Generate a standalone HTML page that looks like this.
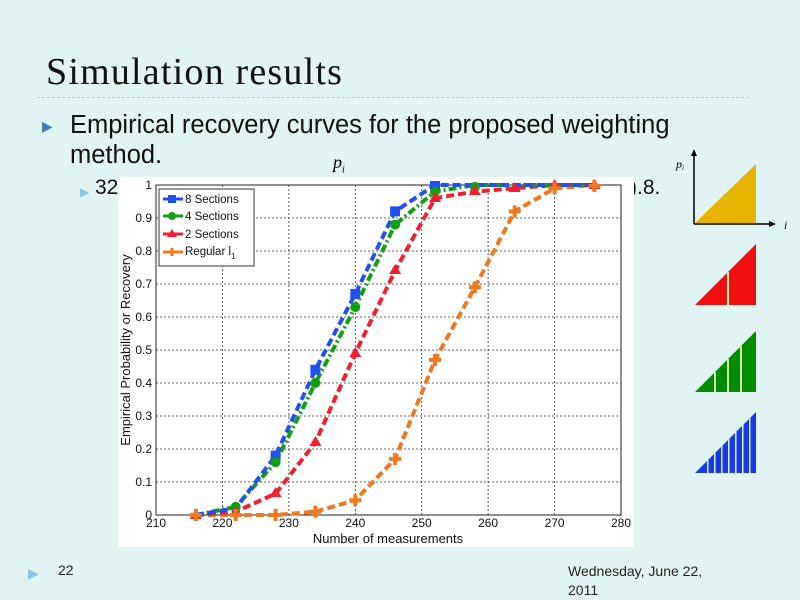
<!DOCTYPE html>
<html><head><meta charset="utf-8"><style>
body{margin:0;width:800px;height:599px;background:#e0f5f3;overflow:hidden;position:relative;font-family:"Liberation Sans",sans-serif}
.t{position:absolute;white-space:nowrap}
</style></head><body>
<div class="t" style="left:46px;top:50px;font-family:'Liberation Serif',serif;font-size:38px;letter-spacing:1.2px;color:#111">Simulation results</div>
<div style="position:absolute;left:37px;top:97px;width:712px;border-top:1px dashed #a8cfd6"></div>
<div class="t" style="left:42px;top:118px;color:#4a7ab5;font-size:14px">&#9654;</div>
<div class="t" style="left:70px;top:111px;font-size:25.5px;color:#111">Empirical recovery curves for the proposed weighting</div>
<div class="t" style="left:70px;top:141px;font-size:25.5px;color:#111">method.</div>
<div class="t" style="left:80px;top:185px;color:#8fc3e0;font-size:12px">&#9654;</div>
<div class="t" style="left:95px;top:176px;font-size:21px;color:#111">32</div>
<div class="t" style="left:630px;top:176px;font-size:21px;color:#111">).8.</div>
<div class="t" style="left:333px;top:152px;font-family:'Liberation Serif',serif;font-style:italic;font-size:18px">p<sub style="font-size:10px">i</sub></div>
<div class="t" style="left:28px;top:565px;color:#8fc3e0;font-size:14px">&#9654;</div>
<div class="t" style="left:58px;top:562px;font-size:14px;color:#222">22</div>
<div class="t" style="left:568px;top:562px;font-size:14px;color:#222;line-height:19px">Wednesday, June 22,<br>2011</div>
<svg width="800" height="599" style="position:absolute;left:0;top:0" font-family="Liberation Sans, sans-serif">
<rect x="118" y="177" width="516" height="370" fill="#fff"/>
<g stroke="#333" stroke-dasharray="2,2" stroke-width="0.8">
<line x1="222.4" y1="185" x2="222.4" y2="515"/><line x1="288.9" y1="185" x2="288.9" y2="515"/><line x1="355.3" y1="185" x2="355.3" y2="515"/><line x1="421.7" y1="185" x2="421.7" y2="515"/><line x1="488.1" y1="185" x2="488.1" y2="515"/><line x1="554.6" y1="185" x2="554.6" y2="515"/>
<line x1="156" y1="218" x2="621" y2="218"/><line x1="156" y1="251" x2="621" y2="251"/><line x1="156" y1="284" x2="621" y2="284"/><line x1="156" y1="317" x2="621" y2="317"/><line x1="156" y1="350" x2="621" y2="350"/><line x1="156" y1="383" x2="621" y2="383"/><line x1="156" y1="416" x2="621" y2="416"/><line x1="156" y1="449" x2="621" y2="449"/><line x1="156" y1="482" x2="621" y2="482"/>
</g>
<rect x="156" y="185" width="465" height="330" fill="none" stroke="#222" stroke-width="1"/>
<g font-size="12" fill="#111" text-anchor="end">
<text x="152" y="189">1</text><text x="152" y="222">0.9</text><text x="152" y="255">0.8</text><text x="152" y="288">0.7</text><text x="152" y="321">0.6</text><text x="152" y="354">0.5</text><text x="152" y="387">0.4</text><text x="152" y="420">0.3</text><text x="152" y="453">0.2</text><text x="152" y="486">0.1</text><text x="152" y="519">0</text>
</g>
<g font-size="12" fill="#111" text-anchor="middle">
<text x="156" y="527">210</text><text x="222.4" y="527">220</text><text x="288.9" y="527">230</text><text x="355.3" y="527">240</text><text x="421.7" y="527">250</text><text x="488.1" y="527">260</text><text x="554.6" y="527">270</text><text x="621" y="527">280</text>
<text x="388" y="543" font-size="13">Number of measurements</text>
<text transform="translate(130,350) rotate(-90)" font-size="13">Empirical Probability or Recovery</text>
</g>
<g fill="none" stroke-width="4" stroke-dasharray="8,4">
<polyline stroke="#f07820" points="195.9,515 235.7,515 275.6,515 315.4,511.7 355.3,500.2 395.1,458.9 435,359.9 474.9,287.3 514.7,211.4 554.6,188.3 594.4,185"/>
<polyline stroke="#f02030" points="195.9,515 235.7,511.7 275.6,493.6 315.4,442.4 355.3,353.3 395.1,270.8 435,198.2 474.9,191.6 514.7,188.3 554.6,185 594.4,185"/>
<polyline stroke="#10a010" stroke-dasharray="8,3,2,3" points="195.9,515 235.7,506.8 275.6,462.2 315.4,383 355.3,307.1 395.1,224.6 435,191.6 474.9,185 514.7,185 554.6,185 594.4,185"/>
<polyline stroke="#2050f0" points="195.9,515 235.7,508.4 275.6,455.6 315.4,369.8 355.3,293.9 395.1,211.4 435,185 474.9,185 514.7,185 554.6,185 594.4,185"/>
</g>
<g fill="#2050f0"><rect x="270.6" y="450.6" width="10" height="10"/><rect x="310.4" y="364.8" width="10" height="10"/><rect x="350.3" y="288.9" width="10" height="10"/><rect x="390.1" y="206.4" width="10" height="10"/><rect x="430" y="181" width="10" height="9"/></g>
<g fill="#10a010"><circle cx="235.7" cy="506.8" r="5"/><circle cx="275.6" cy="462.2" r="5"/><circle cx="315.4" cy="383" r="5"/><circle cx="355.3" cy="307.1" r="5"/><circle cx="395.1" cy="224.6" r="5"/><circle cx="435" cy="191.6" r="5"/><circle cx="474.9" cy="187" r="5"/></g>
<g fill="#f02030">
<path d="M195.9 509l6 10h-12z"/><path d="M235.7 506l6 10h-12z"/><path d="M275.6 487l6 10h-12z"/><path d="M315.4 436l6 10h-12z"/><path d="M355.3 347l6 10h-12z"/><path d="M395.1 264l6 10h-12z"/><path d="M435 192l6 10h-12z"/><path d="M474.9 185l6 10h-12z"/><path d="M514.7 182l6 10h-12z"/><path d="M554.6 179l6 10h-12z"/><path d="M594.4 179l6 10h-12z"/>
</g>
<g stroke="#f07820" stroke-width="4"><path d="M189.9 515h12M195.9 509v12M229.7 515h12M235.7 509v12M269.6 515h12M275.6 509v12M309.4 511.7h12M315.4 505.7v12M349.3 500.2h12M355.3 494.2v12M389.1 458.9h12M395.1 452.9v12M429 359.9h12M435 353.9v12M468.9 287.3h12M474.9 281.3v12M508.7 211.4h12M514.7 205.4v12M548.6 188.3h12M554.6 182.3v12M588.4 186h12M594.4 180v12"/></g>
<rect x="159" y="189" width="95" height="77" fill="#fff" stroke="#333"/>
<g stroke-width="3"><line x1="163" y1="199" x2="183" y2="199" stroke="#2050f0"/><line x1="163" y1="216" x2="183" y2="216" stroke="#10a010"/><line x1="163" y1="234" x2="183" y2="234" stroke="#f02030"/><line x1="163" y1="252" x2="183" y2="252" stroke="#f07820"/></g>
<rect x="168" y="195" width="8" height="8" fill="#2050f0"/><circle cx="172" cy="216" r="4" fill="#10a010"/><path d="M172 229l5 8h-10z" fill="#f02030"/><path d="M168 252h8M172 248v8" stroke="#f07820" stroke-width="3"/>
<g font-size="11.5" fill="#111"><text x="185" y="203">8 Sections</text><text x="185" y="220">4 Sections</text><text x="185" y="238">2 Sections</text><text x="185" y="255">Regular l<tspan font-size="8" dy="4">1</tspan></text></g>
<path d="M695 223L756 164V223Z" fill="#e8b400"/>
<path d="M694 224V153M694 224H772" stroke="#000" stroke-width="1.5"/><path d="M694 149l-3 7h6z M776 224l-7-3v6z" fill="#000"/>
<text x="676" y="168" font-family="Liberation Serif,serif" font-style="italic" font-size="12">p<tspan font-size="7" dy="2">i</tspan></text>
<text x="784" y="229" font-family="Liberation Serif,serif" font-style="italic" font-size="12">i</text>
<path d="M695 305L756 244V305Z" fill="#f01010"/><rect x="727" y="272" width="2" height="33" fill="#d8f8b0"/>
<path d="M695 392L756 331V392Z" fill="#008c00"/><rect x="714" y="372" width="2" height="20" fill="#d8f8b0"/><rect x="727" y="359" width="2" height="33" fill="#d8f8b0"/><rect x="740" y="346" width="2" height="46" fill="#d8f8b0"/>
<path d="M695 473L756 412V473Z" fill="#1838f0"/>
<g fill="#d8f8b0"><rect x="707" y="459" width="1.5" height="14"/><rect x="714" y="452" width="1.5" height="21"/><rect x="721" y="445" width="1.5" height="28"/><rect x="728" y="438" width="1.5" height="35"/><rect x="735" y="431" width="1.5" height="42"/><rect x="742" y="424" width="1.5" height="49"/><rect x="749" y="417" width="1.5" height="56"/></g>
</svg>
</body></html>
